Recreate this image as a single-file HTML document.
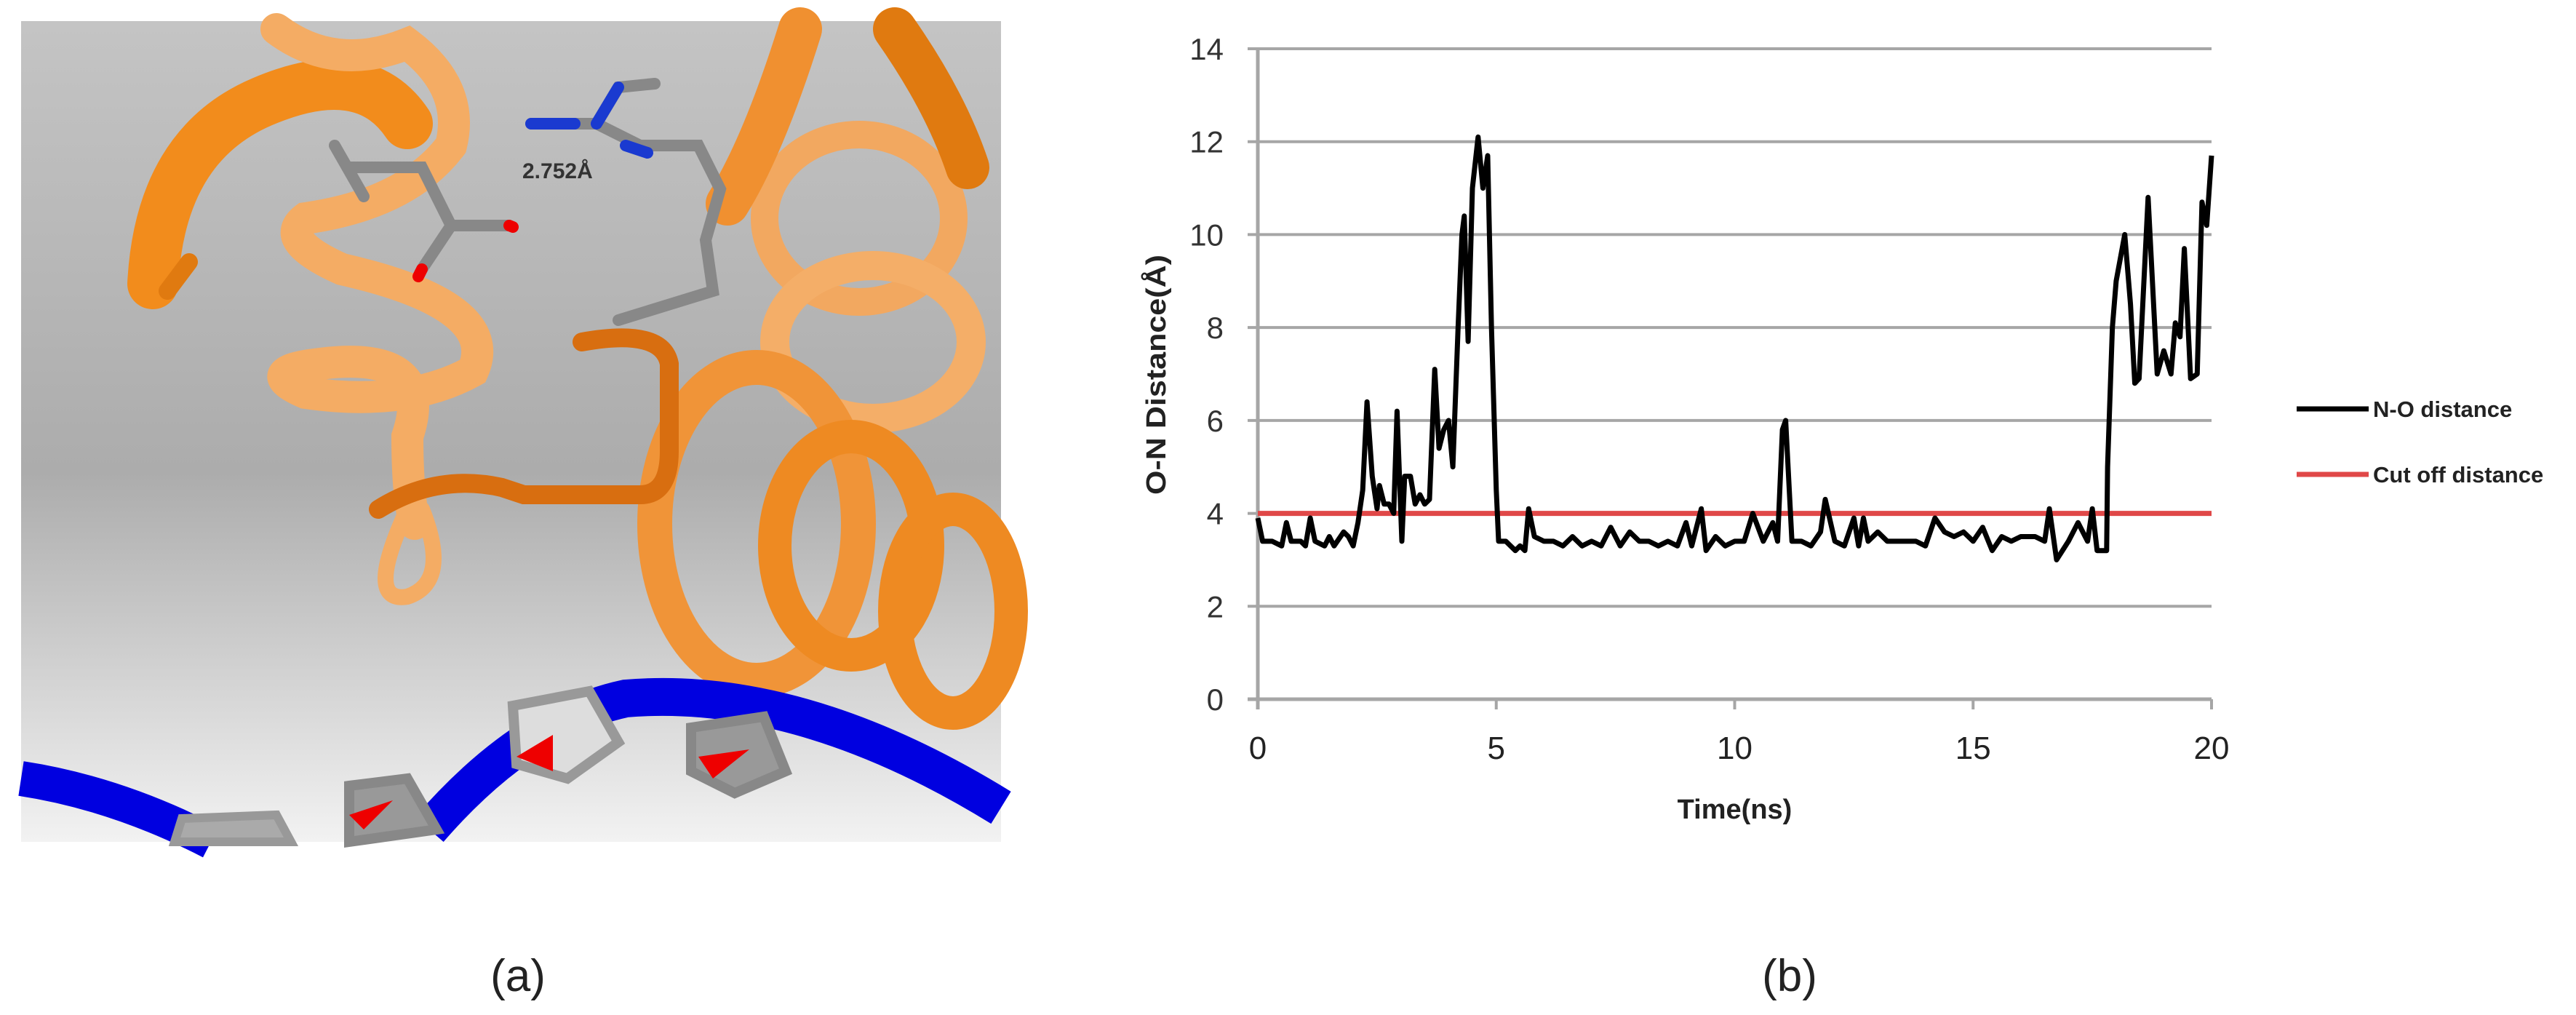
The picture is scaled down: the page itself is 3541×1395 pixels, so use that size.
<!DOCTYPE html>
<html><head><meta charset="utf-8"><style>
html,body{margin:0;padding:0;background:#fff;}
svg{display:block;}
text{font-family:"Liberation Sans",sans-serif;}
</style></head><body>
<svg id="root" width="3541" height="1395" viewBox="0 0 3541 1395" xmlns="http://www.w3.org/2000/svg">
<defs>
<linearGradient id="bg" x1="0" y1="0" x2="0" y2="1">
<stop offset="0" stop-color="#c4c4c4"/><stop offset="0.55" stop-color="#acacac"/><stop offset="1" stop-color="#f2f2f2"/>
</linearGradient>
</defs>
<g>
<rect x="29" y="29" width="1347" height="1128" fill="url(#bg)"/>
<g fill="none" stroke-linecap="round">
<ellipse cx="1181" cy="300" rx="130" ry="115" stroke="#f2a860" stroke-width="38"/>
<ellipse cx="1200" cy="470" rx="135" ry="105" stroke="#f4ae68" stroke-width="40"/>
<ellipse cx="1040" cy="720" rx="140" ry="215" stroke="#f09438" stroke-width="48"/>
<ellipse cx="1170" cy="750" rx="105" ry="150" stroke="#ee8a22" stroke-width="46"/>
<ellipse cx="1310" cy="840" rx="80" ry="140" stroke="#ee8a22" stroke-width="46"/>
<path d="M1100 40 Q1050 200 1000 280" stroke="#f09030" stroke-width="60"/>
<path d="M1230 40 Q1300 140 1330 230" stroke="#e07a10" stroke-width="60"/>
<path d="M210 390 Q220 200 360 140 Q500 80 560 170" stroke="#f28c1c" stroke-width="70"/>
<path d="M380 40 Q460 100 560 60 Q640 120 620 200 Q560 280 420 300 Q380 330 470 370 Q690 420 650 510 Q560 560 420 540 Q350 510 440 500 Q600 480 560 600 Q560 680 570 720" stroke="#f4ac64" stroke-width="44"/>
<path d="M560 700 Q500 830 560 820 Q620 800 580 700" stroke="#f4ac64" stroke-width="22"/>
<path d="M520 700 Q600 650 690 670 L720 680 L880 680 Q920 680 920 620 L920 500 Q910 450 800 470" stroke="#d86e10" stroke-width="26"/>
<path d="M230 400 L260 360" stroke="#e07a10" stroke-width="24"/>
</g>
<g stroke-linecap="round">
<path d="M480 230 L580 230 L620 310 L700 310 M620 310 L580 370 M460 200 L500 270" stroke="#888" stroke-width="16" fill="none"/>
<path d="M700 310 L705 312 M580 370 L575 380" stroke="#e00" stroke-width="16"/>
<path d="M730 170 L820 170 L880 200 L960 200 L990 260 L970 330 L980 400 L850 440 M820 170 L850 120 L900 115" stroke="#888" stroke-width="16" fill="none"/>
<path d="M730 170 L790 170 M820 170 L850 120 M860 200 L890 210" stroke="#1a3ad0" stroke-width="16"/>
<text x="718" y="245" font-size="30" font-weight="bold" fill="#333">2.752Å</text>
</g>
<g fill="none">
<path d="M29 1070 Q160 1090 290 1157" stroke="#0000e0" stroke-width="48"/>
<path d="M590 1140 Q720 990 860 960 Q1100 940 1376 1110" stroke="#0000e0" stroke-width="52"/>
<path d="M705 970 L810 950 L850 1020 L780 1070 L710 1050 Z" fill="#ddd" stroke="#999" stroke-width="14"/>
<path d="M950 1000 L1050 985 L1080 1060 L1010 1090 L950 1060 Z" fill="#999" stroke="#888" stroke-width="14"/>
<path d="M480 1080 L560 1070 L600 1140 L480 1157 Z" fill="#999" stroke="#888" stroke-width="14"/>
<path d="M250 1125 L380 1120 L400 1157 L240 1157 Z" fill="#aaa" stroke="#999" stroke-width="12"/>
<path d="M710 1040 L760 1010 L760 1060 Z M960 1040 L1030 1030 L980 1070 Z M480 1120 L540 1100 L500 1140 Z" fill="#e00"/>
</g>
</g>
<text x="712" y="1362" font-size="62" text-anchor="middle" fill="#222">(a)</text>
<g id="chart"></g>
<text x="2460" y="1362" font-size="62" text-anchor="middle" fill="#222">(b)</text>
</svg>
<script>
const yTicks = [0, 2, 4, 6, 8, 10, 12, 14];
const xTicks = [0, 5, 10, 15, 20];
const cutoff = 4;
const times = [0,0.1,0.3,0.5,0.6,0.7,0.9,1.0,1.1,1.2,1.4,1.5,1.6,1.8,1.9,2.0,2.1,2.2,2.29,2.4,2.5,2.55,2.65,2.75,2.85,2.92,3.02,3.08,3.2,3.3,3.4,3.5,3.6,3.71,3.8,3.9,4.0,4.09,4.2,4.28,4.33,4.41,4.5,4.62,4.72,4.82,4.9,5.0,5.05,5.2,5.3,5.4,5.5,5.6,5.68,5.8,6.0,6.2,6.4,6.6,6.8,7.0,7.2,7.4,7.6,7.8,8.0,8.2,8.4,8.6,8.8,8.98,9.1,9.3,9.4,9.6,9.8,10.0,10.2,10.38,10.6,10.8,10.9,11.0,11.07,11.2,11.4,11.6,11.8,11.9,12.1,12.3,12.5,12.6,12.7,12.8,13.0,13.2,13.5,13.8,14.0,14.1,14.2,14.4,14.6,14.8,15.0,15.2,15.4,15.6,15.8,16.0,16.3,16.5,16.6,16.75,17.0,17.2,17.4,17.5,17.6,17.8,17.82,17.92,18.0,18.18,18.3,18.39,18.48,18.67,18.86,19.0,19.15,19.24,19.34,19.43,19.56,19.7,19.8,19.9,20.0];
const distances = [3.9,3.4,3.4,3.3,3.8,3.4,3.4,3.3,3.9,3.4,3.3,3.5,3.3,3.6,3.5,3.3,3.8,4.5,6.4,4.8,4.1,4.6,4.2,4.2,4.0,6.2,3.4,4.8,4.8,4.2,4.4,4.2,4.3,7.1,5.4,5.8,6.0,5.0,8.0,10.0,10.4,7.7,11.0,12.1,11.0,11.7,8.0,4.5,3.4,3.4,3.3,3.2,3.3,3.2,4.1,3.5,3.4,3.4,3.3,3.5,3.3,3.4,3.3,3.7,3.3,3.6,3.4,3.4,3.3,3.4,3.3,3.8,3.3,4.1,3.2,3.5,3.3,3.4,3.4,4.0,3.4,3.8,3.4,5.8,6.0,3.4,3.4,3.3,3.6,4.3,3.4,3.3,3.9,3.3,3.9,3.4,3.6,3.4,3.4,3.4,3.3,3.6,3.9,3.6,3.5,3.6,3.4,3.7,3.2,3.5,3.4,3.5,3.5,3.4,4.1,3.0,3.4,3.8,3.4,4.1,3.2,3.2,5.0,8.0,9.0,10.0,8.5,6.8,6.9,10.8,7.0,7.5,7.0,8.1,7.8,9.7,6.9,7.0,10.7,10.2,11.7];
const NS = 'http://www.w3.org/2000/svg';
const X0 = 1729, X1 = 3040, Y0 = 961, Y1 = 67;
function xs(t){ return X0 + (t - 0) / 20 * (X1 - X0); }
function ys(v){ return Y0 - v / 14 * (Y0 - Y1); }
const g = document.getElementById('chart');
function mk(tag, attrs){ const e = document.createElementNS(NS, tag); for (const k in attrs) e.setAttribute(k, attrs[k]); g.appendChild(e); return e; }
yTicks.forEach(v => {
  if (v > 0) {
    const l = mk('line', {x1: X0 - 14, x2: X1, y1: ys(v), y2: ys(v), stroke: '#a6a6a6', 'stroke-width': 4});
    
    
  }
  const t = mk('text', {x: 1682, y: ys(v) + 15, 'font-size': 42, 'text-anchor': 'end', fill: '#333'});
  t.textContent = v;
  
  
});
const ya = mk('line', {x1: X0, x2: X0, y1: Y1, y2: Y0 + 14, stroke: '#a6a6a6', 'stroke-width': 5});


const xa = mk('line', {x1: X0 - 14, x2: X1, y1: Y0, y2: Y0, stroke: '#a6a6a6', 'stroke-width': 5});


xTicks.forEach(v => {
  const tk = mk('line', {x1: xs(v), x2: xs(v), y1: Y0, y2: Y0 + 14, stroke: '#a6a6a6', 'stroke-width': 4});
  
  
  const t = mk('text', {x: xs(v), y: 1043, 'font-size': 44, 'text-anchor': 'middle', fill: '#222'});
  t.textContent = v;
  
  
});
const cl = mk('line', {x1: X0, x2: X1, y1: ys(cutoff), y2: ys(cutoff), stroke: '#e04848', 'stroke-width': 7});


const pts = times.map((t, i) => xs(t).toFixed(1) + ',' + ys(distances[i]).toFixed(1)).join(' ');
const pl = mk('polyline', {points: pts, fill: 'none', stroke: '#000', 'stroke-width': 7, 'stroke-linejoin': 'round'});


const xt = mk('text', {x: (X0 + X1) / 2, y: 1125, 'font-size': 38, 'font-weight': 'bold', 'text-anchor': 'middle', fill: '#222'});
xt.textContent = 'Time(ns)';


const yt = mk('text', {x: 0, y: 0, 'font-size': 38, 'font-weight': 'bold', 'text-anchor': 'middle', fill: '#222', transform: 'translate(1602,515) rotate(-90)', textLength: 330, lengthAdjust: 'spacingAndGlyphs'});
yt.textContent = 'O-N Distance(Å)';


const leg = [['N-O distance', '#000', 562], ['Cut off distance', '#e04848', 652]];
leg.forEach(d => {
  const l = mk('line', {x1: 3157, x2: 3256, y1: d[2], y2: d[2], stroke: d[1], 'stroke-width': 7});
  
  
  const t = mk('text', {x: 3262, y: d[2] + 11, 'font-size': 31, 'font-weight': 'bold', fill: '#222'});
  t.textContent = d[0];
  
  
});
</script>
</body></html>
